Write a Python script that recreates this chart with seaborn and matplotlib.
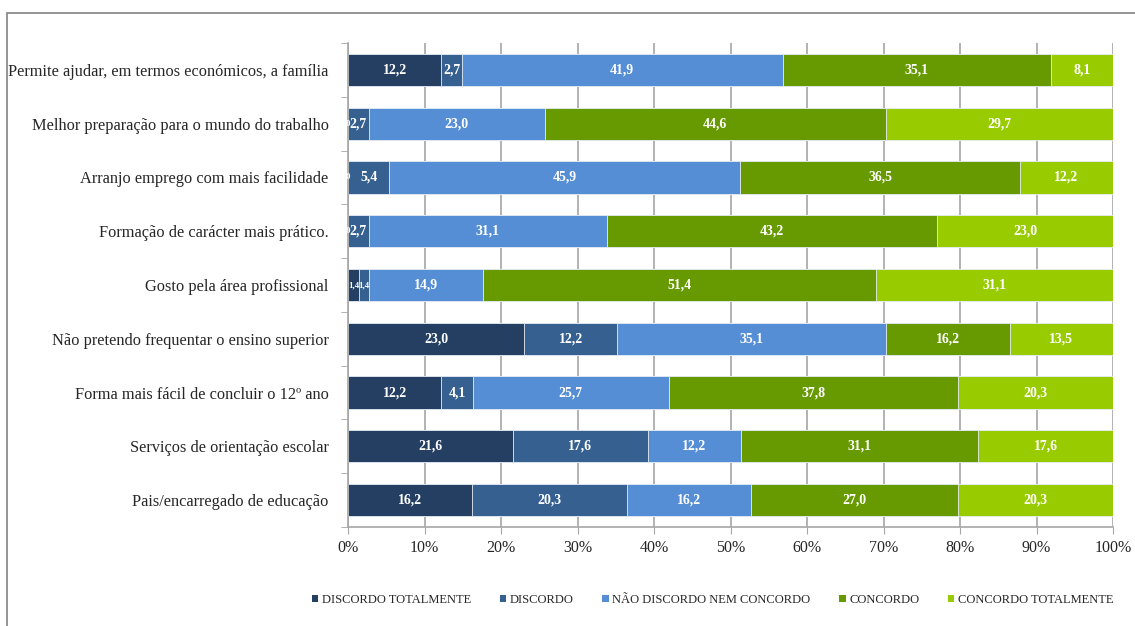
import numpy as np
import pandas as pd
import seaborn as sns
import matplotlib.pyplot as plt
from matplotlib.patches import Patch, Rectangle
from matplotlib.ticker import FixedLocator, FuncFormatter

# ── Data ──────────────────────────────────────────────────────────────────────
categories = [
    "Permite ajudar, em termos económicos, a família",
    "Melhor preparação para o mundo do trabalho",
    "Arranjo emprego com mais facilidade",
    "Formação de carácter mais prático.",
    "Gosto pela área profissional",
    "Não pretendo frequentar o ensino superior",
    "Forma mais fácil de concluir o 12º ano",
    "Serviços de orientação escolar",
    "Pais/encarregado de educação",
]
series_names = [
    "DISCORDO TOTALMENTE",
    "DISCORDO",
    "NÃO DISCORDO NEM CONCORDO",
    "CONCORDO",
    "CONCORDO TOTALMENTE",
]
discordo_totalmente = [12.2, 0.0, 0.0, 0.0, 1.4, 23.0, 12.2, 21.6, 16.2]
discordo = [2.7, 2.7, 5.4, 2.7, 1.4, 12.2, 4.1, 17.6, 20.3]
nem_nem = [41.9, 23.0, 45.9, 31.1, 14.9, 35.1, 25.7, 12.2, 16.2]
concordo = [35.1, 44.6, 36.5, 43.2, 51.4, 16.2, 37.8, 31.1, 27.0]
concordo_totalmente = [8.1, 29.7, 12.2, 23.0, 31.1, 13.5, 20.3, 17.6, 20.3]

colors = ["#243F61", "#36608F", "#558ED5", "#669A00", "#99CC00"]

# ── Prepare ───────────────────────────────────────────────────────────────────
vals = np.array([discordo_totalmente, discordo, nem_nem, concordo,
                 concordo_totalmente])
pct = vals / vals.sum(axis=0) * 100
cum = np.cumsum(pct, axis=0)

sns.set_style("white")
plt.rcParams["font.family"] = ["Liberation Serif", "DejaVu Serif"]

fig = plt.figure(figsize=(11.35, 6.26), dpi=100)
ax = fig.add_axes([348 / 1135, 1 - 527 / 626, 765 / 1135, 484 / 626])

ax.xaxis.grid(True, color="#A6A6A6", lw=1.2)
ax.set_axisbelow(True)

# draw cumulative layers from the widest to the narrowest
for i in range(len(series_names) - 1, -1, -1):
    df = pd.DataFrame({"cat": categories, "x": cum[i]})
    sns.barplot(data=df, x="x", y="cat", orient="h", color=colors[i],
                width=0.6, saturation=1, ax=ax, zorder=2,
                edgecolor="#E8EEF6", linewidth=0.6)

# value labels (tiny segments get a smaller font)
for i in range(len(series_names)):
    centers = cum[i] - pct[i] / 2
    for j, v in enumerate(vals[i]):
        lab = "0" if v == 0 else f"{v:.1f}".replace(".", ",")
        fs = 10 if pct[i][j] >= 2 else 6.5
        ax.text(centers[j], j, lab, ha="center", va="center", color="white",
                fontsize=fs, fontweight="bold", zorder=5)

ax.set_xlim(0, 100)
ax.set_ylim(len(categories) - 0.5, -0.5)
ax.set_xticks(np.arange(0, 101, 10))
ax.xaxis.set_major_formatter(FuncFormatter(lambda v, p: f"{v:.0f}%"))
ax.set_xlabel("")
ax.set_ylabel("")
ax.tick_params(axis="x", length=5, color="#A6A6A6", labelsize=11.5, pad=4,
               bottom=True)
ax.tick_params(axis="y", which="major", length=0, labelsize=11.8, pad=14)
ax.yaxis.set_minor_locator(FixedLocator(np.arange(-0.5, len(categories), 1)))
ax.tick_params(axis="y", which="minor", length=5, color="#A6A6A6", left=True)

for s in ["top", "right"]:
    ax.spines[s].set_visible(False)
for s in ["left", "bottom"]:
    ax.spines[s].set_color("#A6A6A6")
    ax.spines[s].set_linewidth(1.2)

handles = [Patch(facecolor=c, edgecolor="none") for c in colors]
fig.legend(handles, series_names, loc="center", ncol=5,
           bbox_to_anchor=(0.628, 1 - 600 / 626), frameon=False,
           fontsize=9, handlelength=0.5, handleheight=0.5, handletextpad=0.3,
           columnspacing=2.3)

# chart frame (cut off on the right and bottom like the original)
fig.add_artist(Rectangle((7 / 1135, -0.1), 1.1, 1 - 13 / 626 + 0.1,
                         transform=fig.transFigure, fill=False,
                         edgecolor="#8C8C8C", lw=1.3))

fig.savefig("out.png", dpi=100)
